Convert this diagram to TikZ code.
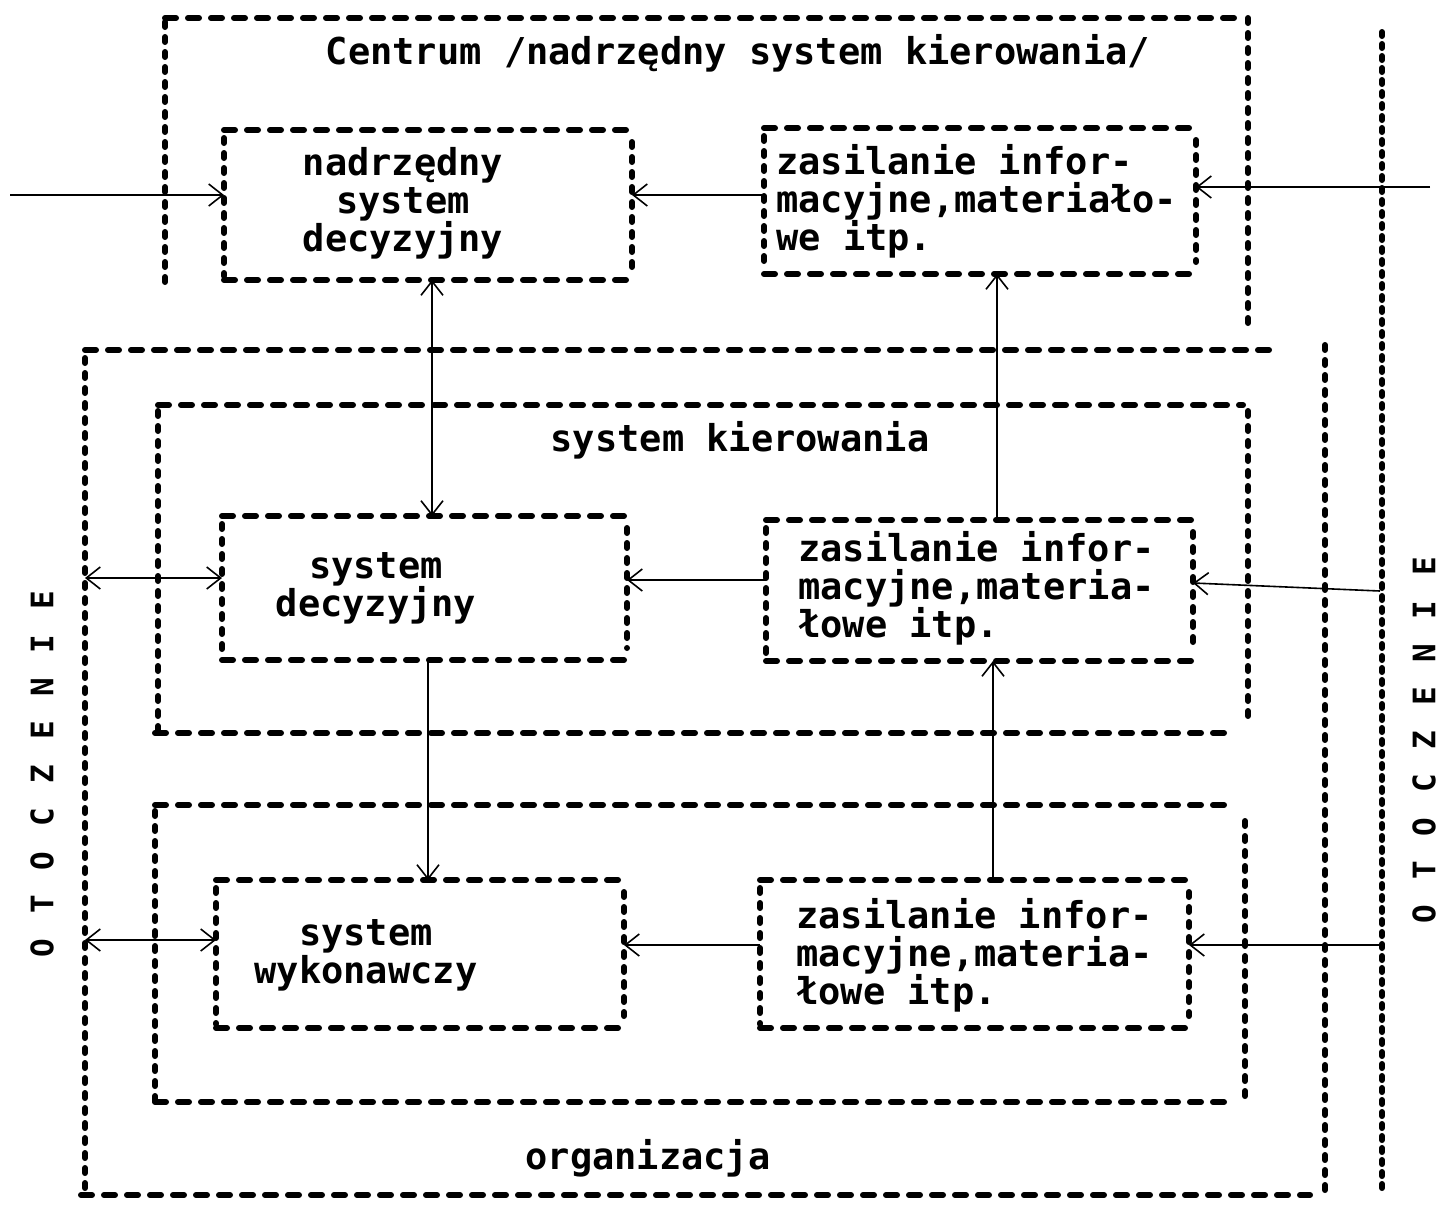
\documentclass[tikz,border=0pt]{standalone}
\usepackage{fontspec}
\newfontfamily\typer{DejaVu Sans Mono}
\usetikzlibrary{arrows.meta}

\tikzset{
  hdash/.style={line width=6pt, line cap=round, dash pattern=on 11pt off 12pt},
  vdash/.style={line width=6pt, line cap=round, dash pattern=on 5pt off 10pt},
  fdash/.style={line width=6pt, line cap=round, dash pattern=on 4pt off 8pt},
  vtip/.tip={Straight Barb[length=14pt,width=22pt,line width=1.6pt]},
  link/.style={line width=1.6pt, -vtip},
  dlink/.style={line width=1.6pt, vtip-vtip},
  frame/.style={draw=none, inner sep=0pt, outer sep=0pt},
  lbl/.style={font=\typer\bfseries\fontsize{37}{38}\selectfont, inner sep=0pt},
  side/.style={font=\typer\bfseries\fontsize{31}{31}\selectfont\addfontfeature{LetterSpace=80}, rotate=90, inner sep=0pt},
}

% four dashed sides of a box node
\newcommand\sidedbox[1]{%
  \draw[hdash] (#1.north west) -- (#1.north east) (#1.south west) -- (#1.south east);
  \draw[vdash] ([yshift=-8pt]#1.north west) -- ([yshift=4pt]#1.south west)
               ([yshift=-12pt]#1.north east) -- ([yshift=12pt]#1.south east);}

\begin{document}
\begin{tikzpicture}[x=1pt,y=-1pt]
\useasboundingbox[fill=white] (0,0) rectangle (1442,1211);

% outer frames
\node[frame, minimum width=1083pt, minimum height=307pt] (cen) at (706.5,171.5) {};
\node[frame, minimum width=1240pt, minimum height=845pt] (org) at (705,772.5) {};
\node[frame, minimum width=1090pt, minimum height=328pt] (sk) at (703,569) {};
\node[frame, minimum width=1090pt, minimum height=297pt] (exe) at (700,953.5) {};

% inner boxes
\node[frame, minimum width=408pt, minimum height=150pt] (nad) at (428,205) {};
\node[frame, minimum width=432pt, minimum height=146pt] (zas1) at (980,201) {};
\node[frame, minimum width=405pt, minimum height=144pt] (dec) at (424.5,588) {};
\node[frame, minimum width=427pt, minimum height=141pt] (zas2) at (979.5,590.5) {};
\node[frame, minimum width=408pt, minimum height=148pt] (wyk) at (420,954) {};
\node[frame, minimum width=429pt, minimum height=148pt] (zas3) at (974.5,954) {};

% centre frame (open at the bottom)
\draw[hdash] (cen.north west) -- ([xshift=-3pt]cen.north east);
\draw[vdash] ([yshift=-4pt]cen.north west) -- ([yshift=35pt]cen.south west);
\draw[vdash] (cen.north east) -- (cen.south east);

% organisation frame
\draw[hdash] (org.north west) -- ([xshift=-53pt]org.north east);
\draw[vdash] ([yshift=-8pt]org.north west) -- (org.south west);
\draw[hdash] ([xshift=-4pt]org.south west) -- ([xshift=-15pt]org.south east);
\draw[vdash] ([yshift=5pt]org.north east) -- ([yshift=5pt]org.south east);

% management system frame
\draw[hdash] (sk.north west) -- ([xshift=-5pt]sk.north east);
\draw[vdash] ([yshift=-6pt]sk.north west) -- (sk.south west);
\draw[vdash] ([yshift=-6pt]sk.north east) -- ([yshift=13pt]sk.south east);
\draw[hdash] ([xshift=-3pt]sk.south west) -- ([xshift=-20pt]sk.south east);

% execution frame
\draw[hdash] (exe.north west) -- ([xshift=-17pt]exe.north east);
\draw[vdash] ([yshift=-6pt]exe.north west) -- (exe.south west);
\draw[vdash] ([yshift=-16pt]exe.north east) -- ([yshift=2pt]exe.south east);
\draw[hdash] (exe.south west) -- ([xshift=-17pt]exe.south east);

% environment boundary on the right
\coordinate (otA) at (1382,32);
\coordinate (otB) at (1382,1190);
\draw[fdash] (otA) -- (otB);

% inner boxes
\sidedbox{nad}
\sidedbox{zas1}
\sidedbox{dec}
\sidedbox{zas2}
\sidedbox{wyk}
\sidedbox{zas3}

% labels
\node[lbl] (ctitle) at (738,53) {Centrum /nadrzędny system kierowania/};
\node[lbl, align=center] (nadt) at (403,203) {nadrzędny\\system\\decyzyjny};
\node[lbl, align=left, anchor=west] (zas1t) at (776,201) {zasilanie infor-\\macyjne,materiało-\\we itp.};
\node[lbl] (sktitle) at (740,440) {system kierowania};
\node[lbl, align=center] (dect) at (376,588) {system\\decyzyjny};
\node[lbl, align=left, anchor=west] (zas2t) at (798,588) {zasilanie infor-\\macyjne,materia-\\łowe itp.};
\node[lbl, align=center] (wykt) at (366,955) {system\\wykonawczy};
\node[lbl, align=left, anchor=west] (zas3t) at (796,955) {zasilanie infor-\\macyjne,materia-\\łowe itp.};
\node[lbl] (orgt) at (648,1158) {organizacja};
\node[side] (otL) at (42,774) {OTOCZENIE};
\node[side] (otR) at (1424,740) {OTOCZENIE};

% connectors: upper level
\coordinate (inA) at (10,195);
\coordinate (inB) at (1430,187);
\draw[link] (inA) -- (inA -| nad.west);
\draw[link] (inA -| zas1.west) -- (inA -| nad.east);
\draw[link] (inB) -- (inB -| zas1.east);
\draw[dlink] ([xshift=4pt]nad.south) -- ([xshift=4pt]nad.south |- dec.north);
\draw[link] ([xshift=17.5pt]zas2.north) -- ([xshift=17.5pt]zas2.north |- zas1.south);

% connectors: management level
\coordinate (m6) at ([yshift=10pt]dec.west);
\coordinate (m7) at ([yshift=8pt]dec.east);
\coordinate (inC) at (1380,591);
\draw[dlink] (org.west |- m6) -- (m6);
\draw[link] (m7 -| zas2.west) -- (m7);
\draw[link] (inC) -- ([yshift=7.5pt]zas2.east);
\draw[link] ([xshift=3.5pt]dec.south) -- ([xshift=3.5pt]dec.south |- wyk.north);
\draw[link] ([xshift=18.5pt]zas3.north) -- ([xshift=18.5pt]zas3.north |- zas2.south);

% connectors: execution level
\coordinate (m11) at ([yshift=14pt]wyk.west);
\coordinate (m12) at ([yshift=9pt]zas3.west);
\coordinate (inD) at (1380,945);
\draw[dlink] (org.west |- m11) -- (m11);
\draw[link] (m12) -- (m12 -| wyk.east);
\draw[link] (inD) -- (inD -| zas3.east);
\end{tikzpicture}
\end{document}
